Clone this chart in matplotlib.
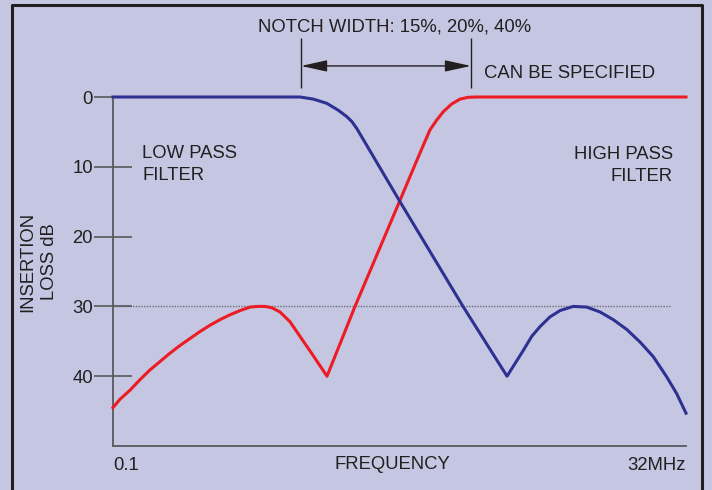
import matplotlib.pyplot as plt
from matplotlib.lines import Line2D

plt.rcParams['font.family'] = ['Liberation Sans', 'DejaVu Sans']

# frequency (MHz) and insertion loss (dB)
high_freq = [0.1, 0.1073, 0.1187, 0.1312, 0.1451, 0.1605, 0.1775, 0.1963, 0.2171, 0.2401,
             0.2655, 0.2936, 0.3247, 0.3592, 0.3972, 0.4305, 0.4618, 0.4956, 0.5372, 0.5940,
             0.6571, 0.7487, 0.8623, 1.143, 1.798, 2.091, 2.274, 2.432, 2.602, 2.781,
             3.026, 3.290, 3.577, 3.891, 32]
high_loss = [44.5, 43.3, 42.0, 40.5, 39.1, 37.9, 36.7, 35.6, 34.6, 33.6,
             32.7, 31.9, 31.2, 30.6, 30.1, 30.0, 30.0, 30.2, 30.8, 32.2,
             34.3, 37.0, 40.0, 30.0, 14.8, 9.7, 6.9, 4.7, 3.3, 2.1,
             1.0, 0.3, 0.04, 0.0, 0.0]

low_freq = [0.1, 0.6571, 0.7510, 0.8597, 0.9661, 1.051, 1.106, 1.163, 1.798, 3.390,
            5.280, 5.821, 6.221, 6.769, 7.358, 8.139, 9.002, 10.29, 11.78, 13.47,
            15.39, 17.62, 20.14, 23.02, 26.35, 29.14, 32]
low_loss = [0.0, 0.0, 0.3, 0.9, 1.9, 2.8, 3.5, 4.5, 15.0, 30.0,
            40.0, 37.8, 36.3, 34.3, 32.9, 31.5, 30.6, 30.0, 30.1, 30.8,
            31.9, 33.3, 35.1, 37.2, 40.1, 42.5, 45.3]

yticks = [0, 10, 20, 30, 40]
notch_lo, notch_hi = 0.6636, 3.675

bg = '#c5c6e2'
ink = '#231f20'

fig = plt.figure(figsize=(7.12, 4.90), dpi=100, facecolor=bg)
ax = fig.add_axes([113 / 712, 1 - 446 / 490, 573 / 712, 349 / 490])
ax.set_facecolor(bg)

ax.set_xscale('log')
ax.set_xlim(0.1, 32)
ax.set_ylim(50, 0)

# 30 dB reference line
ax.axhline(30, xmin=0, xmax=0.972, color='#6d6e71', lw=1, ls=(0, (1, 1)), zorder=1)

ax.plot(high_freq, high_loss, color='#ed1c24', lw=2.2, zorder=3, clip_on=False,
        solid_joinstyle='round')
ax.plot(low_freq, low_loss, color='#2e3192', lw=2.2, zorder=3, clip_on=False,
        solid_joinstyle='round')

for s in ['top', 'right']:
    ax.spines[s].set_visible(False)
for s in ['left', 'bottom']:
    ax.spines[s].set_color('#58595b')
    ax.spines[s].set_linewidth(1.3)

ax.set_yticks(yticks)
ax.tick_params(axis='y', direction='inout', length=27, width=1.2, color='#58595b',
               labelsize=13.3, labelcolor=ink, pad=1)
ax.set_xticks([0.1, 32], ['0.1', '32MHz'])
ax.xaxis.set_minor_locator(plt.NullLocator())
ax.tick_params(axis='x', length=0, labelsize=13.3, labelcolor=ink, pad=8)
xl = ax.get_xticklabels()
xl[0].set_ha('left')
xl[1].set_ha('right')

ax.set_xlabel('FREQUENCY', fontsize=13.3, color=ink, va='center')
ax.xaxis.set_label_coords((392 - 113) / 573, -0.054)
ax.set_ylabel('INSERTION\nLOSS dB', fontsize=13.3, color=ink, va='center', ha='center',
              multialignment='center', linespacing=1.38)
ax.yaxis.set_label_coords((39 - 113) / 573, 0.527)

# notch width marker
ax.vlines([notch_lo, notch_hi], -8.4, -1.3, color=ink, lw=1, clip_on=False)
ax.annotate('', xy=(notch_lo, -4.45), xytext=(notch_hi, -4.45),
            arrowprops=dict(arrowstyle='<|-|>,head_length=1.6,head_width=0.35',
                            color=ink, lw=1, shrinkA=0, shrinkB=0),
            annotation_clip=False)

fig.text(394.5 / 712, 1 - 27 / 490, 'NOTCH WIDTH: 15%, 20%, 40%', fontsize=13.3,
         color=ink, ha='center', va='center')
fig.text(484 / 712, 1 - 74 / 490, 'CAN BE SPECIFIED', fontsize=13.3,
         color=ink, ha='left', va='center')
fig.text(142 / 712, 1 - 164.5 / 490, 'LOW PASS\nFILTER', fontsize=13.3, color=ink,
         ha='left', va='center', linespacing=1.38)
fig.text(673 / 712, 1 - 165.5 / 490, 'HIGH PASS\nFILTER', fontsize=13.3, color=ink,
         ha='right', va='center', multialignment='right', linespacing=1.38)

# frame around the panel (open at the bottom)
fig.add_artist(Line2D([12 / 712, 12 / 712, 702 / 712, 702 / 712],
                      [0, 1 - 5 / 490, 1 - 5 / 490, 0],
                      transform=fig.transFigure, color=ink, lw=2.2))

fig.savefig('out.png', dpi=100, facecolor=bg)
